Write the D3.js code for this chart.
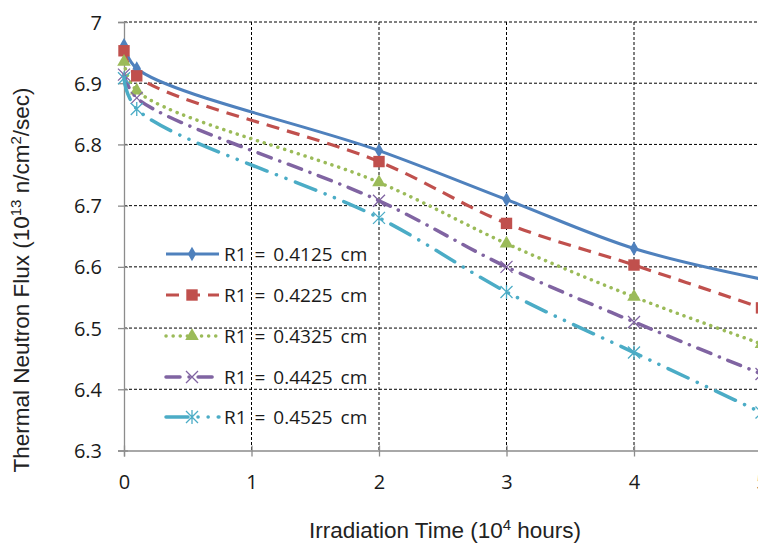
<!DOCTYPE html>
<html>
<head>
<meta charset="utf-8">
<script src="https://cdn.jsdelivr.net/npm/d3@7"></script>
<style>
  body { margin: 0; background: #fff; }
  svg { display: block; }
  .tick-label { font-family: "Open Sans", "Noto Sans", sans-serif; font-size: 20px; fill: #1a1a1a; }
  .axis-title { font-family: "Liberation Sans Narrow", "Liberation Sans", Arial, sans-serif; font-size: 22.5px; fill: #222; }
  .legend-text { font-family: "Open Sans", "Noto Sans", sans-serif; font-size: 19px; fill: #1a1a1a; word-spacing: 3px; }
</style>
</head>
<body>
<svg id="chart" width="758" height="543"></svg>
<script>
const times = [0, 0.1, 2, 3, 4, 5];
const fluxR4125 = [6.962, 6.924, 6.79, 6.71, 6.63, 6.58];
const fluxR4225 = [6.953, 6.912, 6.772, 6.671, 6.603, 6.533];
const fluxR4325 = [6.935, 6.888, 6.738, 6.638, 6.551, 6.474];
const fluxR4425 = [6.914, 6.876, 6.708, 6.6, 6.51, 6.425];
const fluxR4525 = [6.908, 6.858, 6.68, 6.559, 6.46, 6.362];
const seriesNames = ["R1 = 0.4125 cm", "R1 = 0.4225 cm", "R1 = 0.4325 cm", "R1 = 0.4425 cm", "R1 = 0.4525 cm"];
const xTicks = [0, 1, 2, 3, 4, 5];
const yTicks = [6.3, 6.4, 6.5, 6.6, 6.7, 6.8, 6.9, 7];

const styles = [
  { color: "#4F81BD", dash: null, width: 3, marker: "diamond" },
  { color: "#C0504D", dash: "13,8", width: 3.2, marker: "square" },
  { color: "#9BBB59", dash: "0.1,7", width: 3.5, marker: "triangle", cap: "round" },
  { color: "#8064A2", dash: "14,9,0.1,9", width: 3.5, marker: "x", cap: "round" },
  { color: "#4BACC6", dash: "22,10,0.1,10,0.1,10", width: 3.5, marker: "star", cap: "round" }
];
const allSeries = [fluxR4125, fluxR4225, fluxR4325, fluxR4425, fluxR4525];

const svg = d3.select("#chart");
const x = d3.scaleLinear().domain([0, 5]).range([124, 761.5]);
const y = d3.scaleLinear().domain([6.3, 7]).range([450.5, 22]);

// gridlines
svg.append("g").selectAll("line")
  .data(yTicks.filter(d => d > 6.3))
  .join("line")
  .attr("x1", x(0)).attr("x2", x(5))
  .attr("y1", d => y(d)).attr("y2", d => y(d))
  .attr("stroke", "#000").attr("stroke-width", 1).attr("stroke-dasharray", "3,2");
svg.append("g").selectAll("line")
  .data(xTicks.filter(d => d > 0))
  .join("line")
  .attr("x1", d => x(d)).attr("x2", d => x(d))
  .attr("y1", y(7)).attr("y2", y(6.3))
  .attr("stroke", "#000").attr("stroke-width", 1).attr("stroke-dasharray", "3,2");

// axes
const xAxis = d3.axisBottom(x).tickValues(xTicks).tickSize(6).tickFormat(d3.format("d"));
const yAxis = d3.axisLeft(y).tickValues(yTicks).tickSize(6).tickFormat(d => d === 7 ? "7" : d3.format(".1f")(d));

const gx = svg.append("g").attr("transform", `translate(0,${y(6.3)})`).call(xAxis);
const gy = svg.append("g").attr("transform", `translate(${x(0)},0)`).call(yAxis);
[gx, gy].forEach(g => {
  g.select(".domain").attr("stroke", "#8c8c8c").attr("stroke-width", 1.3);
  g.selectAll(".tick line").attr("stroke", "#8c8c8c").attr("stroke-width", 1.3);
  g.selectAll(".tick text").attr("class", "tick-label").attr("fill", null);
});
gx.selectAll(".tick line").attr("y1", -5);
gy.selectAll(".tick line").attr("x1", 4);
gx.selectAll(".tick text").attr("dy", null).attr("y", 38);
gy.selectAll(".tick text").attr("x", -22).attr("dy", "0.35em");

// marker shapes
function markerPath(type) {
  if (type === "diamond") return d3.symbol(d3.symbolDiamond, 60)();
  if (type === "square") return d3.symbol(d3.symbolSquare, 130)();
  if (type === "triangle") return d3.symbol(d3.symbolTriangle, 80)();
  if (type === "x") return "M-6,-6L6,6M-6,6L6,-6";
  return "M-6,-6L6,6M-6,6L6,-6M0,-7L0,7";
}

const line = d3.line()
  .x((d, i) => x(times[i]))
  .y(d => y(d))
  .curve(d3.curveCatmullRom.alpha(0.5));

allSeries.forEach((vals, si) => {
  const st = styles[si];
  svg.append("path")
    .datum(vals)
    .attr("d", line)
    .attr("fill", "none")
    .attr("stroke", st.color)
    .attr("stroke-width", st.width)
    .attr("stroke-linecap", st.cap || "butt")
    .attr("stroke-dasharray", st.dash);
});

allSeries.forEach((vals, si) => {
  const st = styles[si];
  const open = st.marker === "x" || st.marker === "star";
  svg.append("g").selectAll("path")
    .data(vals)
    .join("path")
    .attr("transform", (d, i) => `translate(${x(times[i])},${y(d)})`)
    .attr("d", markerPath(st.marker))
    .attr("fill", open ? "none" : st.color)
    .attr("stroke", st.color)
    .attr("stroke-width", open ? 1.3 : 0);
});

// legend
const legend = svg.append("g");
const rowY = [254, 295, 336, 377, 417];
seriesNames.forEach((name, i) => {
  const st = styles[i];
  const g = legend.append("g").attr("transform", `translate(0,${rowY[i]})`);
  g.append("line")
    .attr("x1", 166).attr("x2", 219).attr("y1", 0).attr("y2", 0)
    .attr("stroke", st.color).attr("stroke-width", st.width)
    .attr("stroke-linecap", st.cap || "butt")
    .attr("stroke-dasharray", st.dash);
  const open = st.marker === "x" || st.marker === "star";
  g.append("path")
    .attr("transform", "translate(192,0)")
    .attr("d", markerPath(st.marker))
    .attr("fill", open ? "none" : st.color)
    .attr("stroke", st.color)
    .attr("stroke-width", open ? 1.3 : 0);
  g.append("text").attr("class", "legend-text")
    .attr("x", 224).attr("y", 0).attr("dy", "0.36em")
    .text(name);
});

// axis titles
const xt = svg.append("text").attr("class", "axis-title")
  .attr("x", 445).attr("y", 538).attr("text-anchor", "middle");
xt.append("tspan").text("Irradiation Time (10");
xt.append("tspan").attr("dy", -8).attr("font-size", 15).text("4");
xt.append("tspan").attr("dy", 8).text(" hours)");

const yt = svg.append("text").attr("class", "axis-title")
  .attr("transform", "translate(29,280) rotate(-90)").attr("text-anchor", "middle");
yt.append("tspan").text("Thermal Neutron Flux (10");
yt.append("tspan").attr("dy", -8).attr("font-size", 15).text("13");
yt.append("tspan").attr("dy", 8).text(" n/cm");
yt.append("tspan").attr("dy", -8).attr("font-size", 15).text("2");
yt.append("tspan").attr("dy", 8).text("/sec)");
</script>
</body>
</html>
